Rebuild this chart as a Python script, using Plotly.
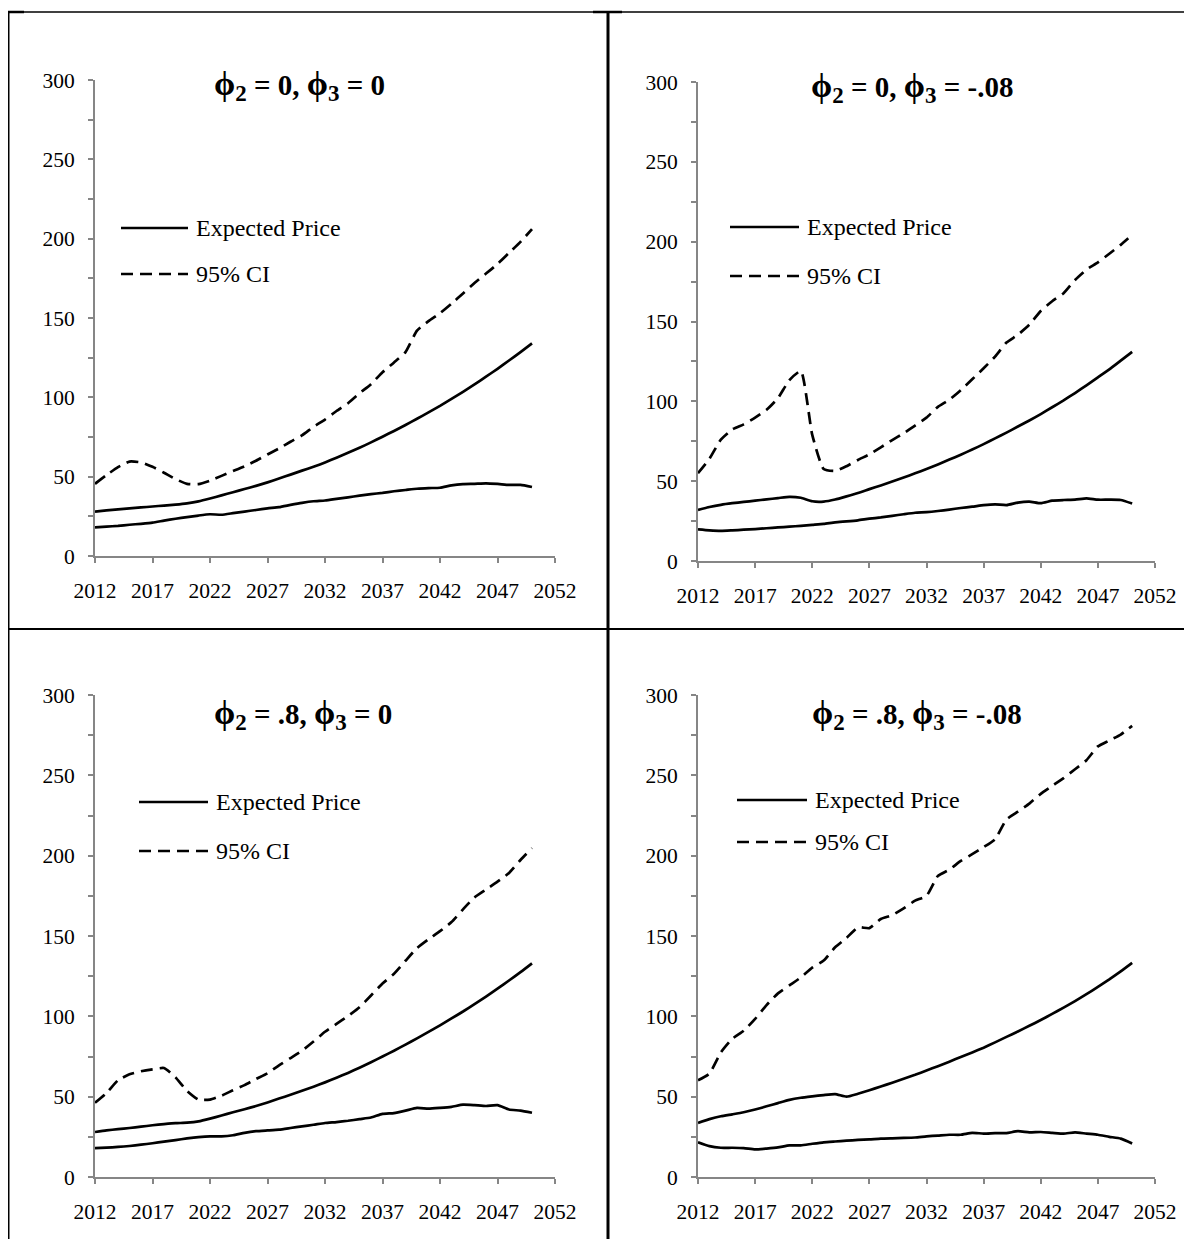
import plotly.graph_objects as go

OFF = 8  # page body margin of the html page
W, H = 1192 - OFF, 1239 - OFF

years = list(range(2012, 2051))

p1_expected = [28, 28.7, 29.4, 30, 30.6, 31.2, 31.8, 32.4, 33.2, 34.4, 36.2, 38.2, 40.2, 42.2, 44.2, 46.4, 48.8, 51.3, 53.8, 56.3,
               59, 62, 65, 68.2, 71.6, 75.2, 78.8, 82.6, 86.5, 90.5, 94.6, 99, 103.5, 108.2, 113, 118, 123.2, 128.5, 134]
p1_upper = [45.5, 51, 56, 59.5, 59, 56.2, 52.5, 48.5, 45.5, 45.3, 47.5, 50.5, 53.5, 56.5, 60, 64, 67.8, 72, 76, 81.4,
            86, 91.4, 96.3, 102.6, 108.3, 115.8, 122, 128.5, 142, 148, 153, 159, 165.5, 172, 178, 184, 191, 198, 206]
p1_lower = [18, 18.5, 19, 19.7, 20.3, 21, 22.3, 23.5, 24.5, 25.5, 26.3, 26, 27, 28, 29, 30, 30.8, 32.2, 33.5, 34.5,
            35, 36, 37, 38, 39, 39.8, 40.8, 41.6, 42.4, 42.8, 43, 44.5, 45.3, 45.5, 45.8, 45.4, 44.8, 44.8, 43.5]

p2_expected = [32, 33.8, 35.2, 36.2, 37, 37.8, 38.6, 39.4, 40.2, 39.6, 37.4, 37.2, 38.5, 40.5, 42.6, 45, 47.3, 49.8, 52.3, 54.9,
               57.6, 60.5, 63.5, 66.6, 69.8, 73.2, 76.8, 80.4, 84.2, 88, 92, 96.3, 100.6, 105.2, 110, 115, 120, 125.5, 131]
p2_upper = [55, 64, 76, 82.4, 85.6, 89.8, 94.7, 102, 113.3, 119, 79, 57.6, 56.4, 59.4, 63.3, 66.8, 71.2, 75.7, 80, 84.8,
            89.8, 96.5, 101, 107, 113.8, 120.7, 128, 136.8, 141.7, 148, 156.6, 162.7, 167.7, 176, 182.5, 187, 192.4, 198, 204.3]
p2_lower = [19.8, 19.2, 18.9, 19.2, 19.6, 20, 20.5, 21, 21.5, 22, 22.6, 23.2, 24.2, 24.8, 25.5, 26.5, 27.3, 28.3, 29.3, 30.2,
            30.6, 31.3, 32.2, 33.2, 34, 35, 35.5, 35, 36.6, 37.2, 36.2, 37.8, 38.2, 38.4, 39.2, 38.4, 38.4, 38.2, 36]

p3_expected = [28, 29, 29.8, 30.5, 31.3, 32.2, 32.9, 33.5, 33.8, 34.6, 36.3, 38.3, 40.3, 42.2, 44.2, 46.4, 48.8, 51.2, 53.7, 56.2,
               58.9, 61.8, 64.8, 68, 71.4, 75, 78.6, 82.4, 86.3, 90.3, 94.4, 98.7, 103, 107.6, 112.3, 117.2, 122.3, 127.5, 133]
p3_upper = [46.2, 52.3, 60.2, 63.9, 65.8, 67, 67.8, 62, 53.6, 48.2, 48.2, 50.6, 54, 57.2, 61, 64.6, 69.5, 74, 78.6, 84.3,
            90.4, 95.3, 100.2, 105.7, 113, 120.4, 126.5, 134.6, 142.5, 148, 153, 158.7, 166.6, 174, 178.9, 183.8, 189.2, 197.3, 204.7]
p3_lower = [18, 18.3, 18.7, 19.3, 20.1, 21, 22, 23, 24, 24.8, 25.3, 25.3, 26, 27.5, 28.5, 29, 29.5, 30.5, 31.5, 32.5,
            33.6, 34.2, 35, 36, 37, 39.3, 39.8, 41.3, 43, 42.5, 43, 43.7, 45, 44.7, 44.2, 44.7, 42, 41.3, 40]

p4_expected = [33.7, 36, 37.8, 39, 40.3, 42, 44, 46, 48, 49.3, 50.2, 51, 51.6, 50, 51.8, 54, 56.3, 58.7, 61.1, 63.6,
               66.3, 69, 71.8, 74.7, 77.5, 80.5, 83.8, 87.2, 90.6, 94.1, 97.7, 101.5, 105.4, 109.5, 113.8, 118.3, 123, 128, 133.3]
p4_upper = [60.2, 64.4, 77.5, 86, 91, 98.4, 107, 114.3, 119.3, 124.2, 130.3, 134.7, 143, 148.8, 155.4, 154.9, 160.6, 163, 167.2, 172,
            175, 187.4, 191.3, 196.7, 200.9, 205.3, 210.2, 222.5, 227.4, 232.4, 238.5, 243.4, 248.3, 253.8, 259.4, 268, 271.7, 275.4, 280.8]
p4_lower = [21.6, 19.2, 18.2, 18.2, 18, 17.2, 17.7, 18.4, 19.7, 19.7, 20.7, 21.6, 22.1, 22.6, 23.1, 23.4, 23.9, 24.1, 24.3, 24.6,
            25.3, 25.8, 26.3, 26.3, 27.5, 27, 27.3, 27.3, 28.5, 27.8, 28, 27.5, 27, 27.8, 27, 26.3, 25, 23.9, 20.9]

phi = "<span style='font-size:34px'>ϕ</span>"
sub2 = "<sub><span style='font-size:23px'>2</span></sub>"
sub3 = "<sub><span style='font-size:23px'>3</span></sub>"
titles = [
    f"{phi}{sub2} = 0, {phi}{sub3} = 0",
    f"{phi}{sub2} = 0, {phi}{sub3} = -.08",
    f"{phi}{sub2} = .8, {phi}{sub3} = 0",
    f"{phi}{sub2} = .8, {phi}{sub3} = -.08",
]
legend_labels = ["Expected Price", "95% CI"]
x_ticks = list(range(2012, 2053, 5))
y_ticks = list(range(0, 301, 50))

panels = [
    (p1_expected, p1_upper, p1_lower),
    (p2_expected, p2_upper, p2_lower),
    (p3_expected, p3_upper, p3_lower),
    (p4_expected, p4_upper, p4_lower),
]

# layout (pixel positions in the reference picture)
axes_px = [
    # x0, x1, y_bottom(0), y_top(300)
    (95, 555, 556, 80),
    (698, 1155, 561, 82),
    (95, 555, 1177, 695),
    (698, 1155, 1177, 695),
]
title_px = [(212, 86), (809, 88), (212, 714), (810, 714)]
legend_px = [
    (121, 188, 228, 274),
    (730, 799, 227, 276),
    (139, 208, 802, 851),
    (737, 807, 800, 842),
]


def px(x):
    return (x - OFF) / W


def py(y):
    return 1 - (y - OFF) / H


FONT = "Liberation Serif, Times New Roman, serif"
DASH = "12px,7px"
LW = 2.7
AXC = "#868686"

fig = go.Figure()
layout = dict(
    width=W, height=H, margin=dict(l=0, r=0, t=0, b=0, pad=0, autoexpand=False),
    paper_bgcolor="white", plot_bgcolor="white", showlegend=False,
    font=dict(family=FONT, color="black"),
)
shapes = []
annotations = []

for i, (exp_v, up_v, lo_v) in enumerate(panels):
    k = "" if i == 0 else str(i + 1)
    xa, ya = "x" + k, "y" + k
    for vals, dash in ((exp_v, "solid"), (up_v, DASH), (lo_v, "solid")):
        fig.add_trace(go.Scatter(
            x=years, y=vals, xaxis=xa, yaxis=ya, mode="lines",
            line=dict(color="black", width=LW, dash=dash, shape="spline", smoothing=0.5),
            hoverinfo="skip",
        ))
    x0, x1, yb, yt = axes_px[i]
    layout["xaxis" + k] = dict(
        domain=[px(x0), px(x1)], anchor=ya, range=[2012, 2052], automargin=False,
        tickvals=x_ticks, ticks="outside", ticklen=5, tickwidth=2, tickcolor=AXC,
        showline=True, linecolor=AXC, linewidth=2, showgrid=False, zeroline=False,
        tickfont=dict(family=FONT, size=21.5, color="black"), ticklabelstandoff=9,
    )
    layout["yaxis" + k] = dict(
        domain=[py(yb), py(yt)], anchor=xa, range=[0, 300], automargin=False,
        tickvals=y_ticks, ticks="outside", ticklen=5, tickwidth=1.5, tickcolor=AXC,
        minor=dict(dtick=25, ticks="outside", ticklen=5, tickwidth=1.5, tickcolor=AXC),
        showline=True, linecolor=AXC, linewidth=2, showgrid=False, zeroline=False,
        tickfont=dict(family=FONT, size=21.5, color="black"), ticklabelstandoff=9,
    )
    tx, ty = title_px[i]
    annotations.append(dict(
        x=px(tx), y=py(ty), xref="paper", yref="paper", xanchor="left", yanchor="middle",
        text="<b>" + titles[i] + "</b>", showarrow=False,
        font=dict(family=FONT, size=29, color="black"),
    ))
    lx0, lx1, ly1, ly2 = legend_px[i]
    shapes.append(dict(type="line", xref="paper", yref="paper", x0=px(lx0), x1=px(lx1),
                       y0=py(ly1), y1=py(ly1), line=dict(color="black", width=LW)))
    shapes.append(dict(type="line", xref="paper", yref="paper", x0=px(lx0), x1=px(lx1),
                       y0=py(ly2), y1=py(ly2), line=dict(color="black", width=LW, dash=DASH)))
    annotations.append(dict(
        x=px(lx1 + 6), y=py(ly1), xref="paper", yref="paper", xanchor="left", yanchor="middle",
        text=legend_labels[0], showarrow=False, font=dict(family=FONT, size=24, color="black"),
    ))
    annotations.append(dict(
        x=px(lx1 + 6), y=py(ly2), xref="paper", yref="paper", xanchor="left", yanchor="middle",
        text=legend_labels[1], showarrow=False, font=dict(family=FONT, size=24, color="black"),
    ))

# table borders
border = [
    (7, 12, 1192, 12, 1.5),
    (8, 12, 8, 1239, 3),
    (608, 12, 608, 1239, 3),
    (7, 629, 1192, 629, 2),
    (593, 12, 622, 12, 2.5),
    (7, 12, 24, 12, 2.5),
]
for bx0, by0, bx1, by1, bw in border:
    shapes.append(dict(type="line", xref="paper", yref="paper", x0=px(bx0), y0=py(by0),
                       x1=px(bx1), y1=py(by1), line=dict(color="black", width=bw)))

layout["shapes"] = shapes
layout["annotations"] = annotations
fig.update_layout(**layout)
fig.write_html("out.html")
